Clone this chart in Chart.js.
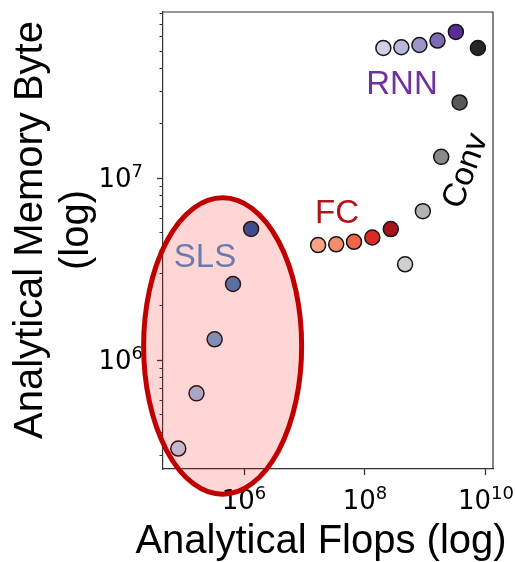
<!DOCTYPE html>
<html><head><meta charset="utf-8">
<script src="https://cdn.jsdelivr.net/npm/chart.js@4/dist/chart.umd.min.js"></script>
<style>html,body{margin:0;padding:0;background:#fff;} canvas{display:block;}</style>
</head><body>
<canvas id="c" width="516" height="562"></canvas>
<script>
// ---- data (analytical flops vs memory bytes, log-log) ----
const categories = ['SLS', 'FC', 'RNN', 'Conv'];
const slsFlops = [8.2e4, 1.64e5, 3.27e5, 6.58e5, 1.31e6];
const slsMem   = [3.26e5, 6.56e5, 1.30e6, 2.62e6, 5.26e6];
const fcFlops  = [1.68e7, 3.34e7, 6.58e7, 1.32e8, 2.67e8];
const fcMem    = [4.29e6, 4.33e6, 4.47e6, 4.72e6, 5.25e6];
const rnnFlops = [2.01e8, 3.99e8, 7.94e8, 1.58e9, 3.18e9];
const rnnMem   = [5.2e7, 5.25e7, 5.4e7, 5.71e7, 6.37e7];
const convFlops = [4.6e8, 9.04e8, 1.82e9, 3.66e9, 7.36e9];
const convMem   = [3.36e6, 6.59e6, 1.31e7, 2.61e7, 5.2e7];
const xTickValues = [1e6, 1e8, 1e10];
const xTickBase = ['10', '10', '10'];
const xTickExp  = ['6', '8', '10'];
const yTickValues = [1e6, 1e7];
const yTickBase = ['10', '10'];
const yTickExp  = ['6', '7'];
// highlighted region around SLS (data-space bounds)
const ellipseX = [2.19e4, 8.97e6];
const ellipseY = [1.83e5, 7.80e6];

// ---- styles ----
const slsColors  = ['#b9dbf3', '#9ac8ec', '#69abdb', '#3c85c8', '#185ea9'];
const fcColors   = ['#f9a386', '#f58c6c', '#f26548', '#dc2a26', '#a8131a'];
const rnnColors  = ['#d0d0e8', '#b8b8dc', '#9a98c8', '#7c6cb4', '#5a2d94'];
const convColors = ['#cfcfcf', '#b3b3b3', '#8a8a8a', '#585858', '#262626'];
const AX = '#333333';
const BASE_FONT = '26px "DejaVu Sans", sans-serif';
const SUP_FONT = '18px "DejaVu Sans", sans-serif';

function pts(xs, ys) { return xs.map((x, i) => ({x: x, y: ys[i]})); }
function ds(label, xs, ys, colors) {
  return {label: label, data: pts(xs, ys), backgroundColor: colors,
    borderColor: '#151515', borderWidth: 1.5, pointRadius: 7.5, pointHoverRadius: 7.5};
}

const yMinor = [];
for (let e = 5; e <= 7; e++) for (let m = 1; m <= 9; m++) yMinor.push(m * Math.pow(10, e));

function drawPow(ctx, base, exp, x, baseline, align) {
  ctx.font = BASE_FONT;
  const wb = ctx.measureText(base).width;
  ctx.font = SUP_FONT;
  const we = ctx.measureText(exp).width;
  const total = wb + we;
  let left = align === 'center' ? x - total / 2 : x - total;
  ctx.textAlign = 'left';
  ctx.textBaseline = 'alphabetic';
  ctx.font = BASE_FONT;
  ctx.fillText(base, left, baseline);
  ctx.font = SUP_FONT;
  ctx.fillText(exp, left + wb, baseline - 10);
}

const overlay = {
  id: 'overlay',
  afterDraw(chart) {
    const ctx = chart.ctx, a = chart.chartArea;
    const xs = chart.scales.x, ys = chart.scales.y;
    ctx.save();
    // top & right frame
    ctx.strokeStyle = AX; ctx.lineWidth = 1.2;
    ctx.beginPath();
    ctx.moveTo(a.left, a.top); ctx.lineTo(a.right, a.top); ctx.lineTo(a.right, a.bottom);
    ctx.stroke();
    // major y ticks (longer)
    ctx.lineWidth = 1.3;
    yTickValues.forEach(v => {
      const p = Math.round(ys.getPixelForValue(v)) + 0.5;
      ctx.beginPath(); ctx.moveTo(a.left - 6, p); ctx.lineTo(a.left, p); ctx.stroke();
    });
    // tick labels
    ctx.fillStyle = '#000';
    xTickValues.forEach((v, i) => drawPow(ctx, xTickBase[i], xTickExp[i], xs.getPixelForValue(v), a.bottom + 40, 'center'));
    yTickValues.forEach((v, i) => drawPow(ctx, yTickBase[i], yTickExp[i], a.left - 20, ys.getPixelForValue(v) + 9, 'right'));
    // group labels
    ctx.textBaseline = 'alphabetic';
    ctx.textAlign = 'center';
    ctx.font = '33px "Liberation Sans", Arial, sans-serif';
    ctx.fillStyle = '#7030a0';
    ctx.fillText('RNN', 402, 94);
    ctx.fillStyle = '#b5121b';
    ctx.fillText('FC', 337, 223);
    ctx.save();
    ctx.translate(466, 171);
    ctx.rotate(-70 * Math.PI / 180);
    ctx.fillStyle = '#000';
    ctx.textBaseline = 'middle';
    ctx.fillText('Conv', 0, 0);
    ctx.restore();
    // axis titles
    ctx.fillStyle = '#000';
    ctx.font = '40px "Liberation Sans", Arial, sans-serif';
    ctx.textAlign = 'center';
    ctx.textBaseline = 'alphabetic';
    ctx.fillText('Analytical Flops (log)', 321, 553);
    ctx.save();
    ctx.translate(41.5, 230);
    ctx.rotate(-Math.PI / 2);
    ctx.fillText('Analytical Memory Byte', 0, 0);
    ctx.fillText('(log)', 0, 46.5);
    ctx.restore();
    // SLS ellipse
    const x0 = xs.getPixelForValue(ellipseX[0]), x1 = xs.getPixelForValue(ellipseX[1]);
    const y0 = ys.getPixelForValue(ellipseY[1]), y1 = ys.getPixelForValue(ellipseY[0]);
    ctx.beginPath();
    ctx.ellipse((x0 + x1) / 2, (y0 + y1) / 2, (x1 - x0) / 2, (y1 - y0) / 2, 0, 0, Math.PI * 2);
    ctx.fillStyle = 'rgba(255,0,0,0.16)';
    ctx.fill();
    ctx.strokeStyle = '#c00000';
    ctx.lineWidth = 5;
    ctx.stroke();
    ctx.font = '33px "Liberation Sans", Arial, sans-serif';
    ctx.fillStyle = '#6a7bb0';
    ctx.textAlign = 'center';
    ctx.textBaseline = 'alphabetic';
    ctx.fillText('SLS', 205, 267);
    ctx.restore();
  }
};

new Chart(document.getElementById('c'), {
  type: 'scatter',
  data: {
    datasets: [
      ds(categories[0], slsFlops, slsMem, slsColors),
      ds(categories[1], fcFlops, fcMem, fcColors),
      ds(categories[2], rnnFlops, rnnMem, rnnColors),
      ds(categories[3], convFlops, convMem, convColors)
    ]
  },
  options: {
    responsive: false,
    animation: false,
    events: [],
    layout: {padding: {top: 12, right: 23, left: 0, bottom: 0}},
    plugins: {legend: {display: false}, tooltip: {enabled: false}},
    scales: {
      x: {
        type: 'logarithmic', position: 'bottom',
        min: 45810, max: 1.306e10,
        afterBuildTicks: s => { s.ticks = xTickValues.map(v => ({value: v})); },
        afterFit: s => { s.height = 93; s.paddingLeft = 0; s.paddingRight = 0; },
        ticks: {display: false, autoSkip: false, maxRotation: 0, minRotation: 0},
        grid: {drawOnChartArea: false, drawTicks: true, tickLength: 6, tickColor: AX, tickWidth: 1.3},
        border: {display: true, color: AX, width: 1.2},
        title: {display: false}
      },
      y: {
        type: 'logarithmic', position: 'left',
        min: 251800, max: 8.2e7,
        afterBuildTicks: s => {
          s.ticks = yMinor.filter(v => v >= s.min && v <= s.max).map(v => ({value: v}));
        },
        afterFit: s => { s.width = 163; s.paddingTop = 0; s.paddingBottom = 0; },
        ticks: {display: false, autoSkip: false},
        grid: {drawOnChartArea: false, drawTicks: true, tickLength: 3.5, tickColor: AX, tickWidth: 1},
        border: {display: true, color: AX, width: 1.2},
        title: {display: false}
      }
    }
  },
  plugins: [overlay]
});
</script>
</body></html>
